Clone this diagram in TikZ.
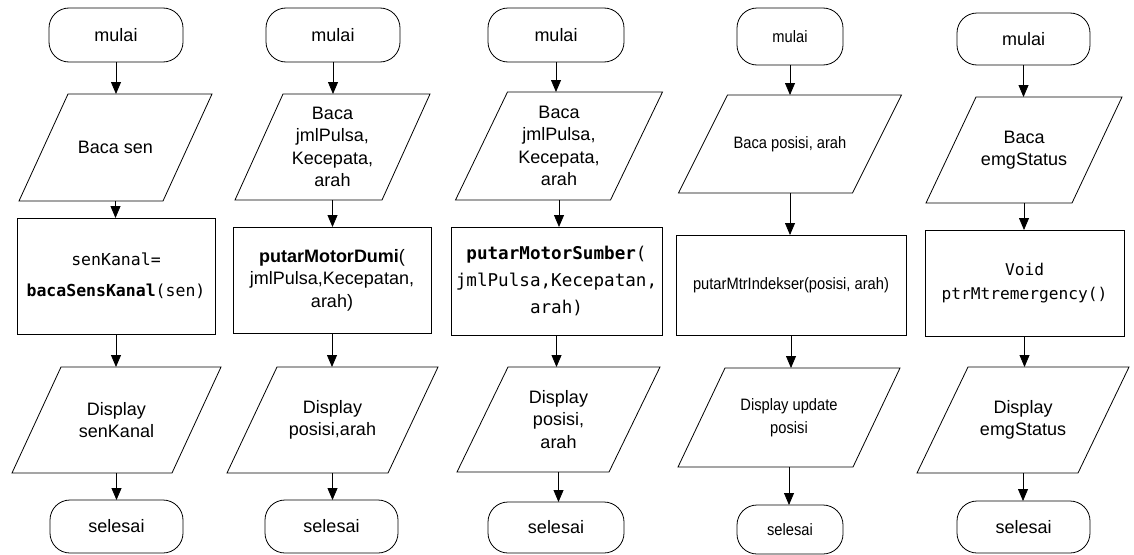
\documentclass[tikz,border=0pt]{standalone}
\usepackage{fontspec}
\setmainfont{Liberation Sans}
\newfontfamily\monofont{DejaVu Sans Mono}
\newfontfamily\narrowsans[FakeStretch=0.89]{Liberation Sans}
\usetikzlibrary{arrows.meta}
\tikzset{
  shapeline/.style={draw=black, line width=0.8pt},
  term/.style={shapeline, rounded corners=20pt, inner sep=0pt, outer sep=0pt},
  procbox/.style={shapeline, inner sep=0pt, outer sep=0pt, align=center},
  iotext/.style={inner sep=0pt, outer sep=0pt, align=center},
  arr/.style={line width=0.8pt, -{Triangle[length=12pt,width=10pt]}},
  big/.style={font=\fontsize{18}{22.5}\selectfont},
  small/.style={font=\narrowsans\fontsize{16.5}{23}\selectfont}
}
% name, cx, cy, top-edge length, height, slant, style, text
\newcommand\iobox[8]{%
  \node[iotext, #7, minimum width=#4pt, minimum height=#5pt] (#1) at (#2,#3) {#8};
  \draw[shapeline] ([xshift=0.5*#6pt]#1.north west) -- ([xshift=0.5*#6pt]#1.north east)
    -- ([xshift=-0.5*#6pt]#1.south east) -- ([xshift=-0.5*#6pt]#1.south west) -- cycle;
}
\begin{document}
\begin{tikzpicture}[x=1pt,y=-1pt]
\useasboundingbox (0,0) rectangle (1134,554);

% ---------- column 1
\node[term, big, minimum width=134pt, minimum height=54pt] (s1) at (116,35) {mulai};
\iobox{p1}{115.5}{147.5}{144}{107}{49}{big}{Baca sen}
\node[procbox, minimum width=198pt, minimum height=116pt,
      font=\monofont\fontsize{16.5}{31}\selectfont] (r1) at (116,276)
      {senKanal=\\\textbf{bacaSensKanal}(sen)};
\iobox{d1}{116.5}{420}{160}{106}{49}{big}{Display\\senKanal}
\node[term, big, minimum width=133pt, minimum height=53pt] (e1) at (116.5,526.5) {selesai};

% ---------- column 2
\node[term, big, minimum width=134pt, minimum height=54pt] (s2) at (333,35) {mulai};
\iobox{p2}{332.5}{147}{147}{106}{48}{big}{Baca\\jmlPulsa,\\Kecepata,\\arah}
\node[procbox, big, minimum width=198pt, minimum height=106pt] (r2) at (332,280)
      {\textbf{putarMotorDumi}(\\jmlPulsa,Kecepatan,\\arah)};
\iobox{d2}{332.5}{420}{161}{106}{50}{big}{Display\\posisi,arah}
\node[term, big, minimum width=133pt, minimum height=53pt] (e2) at (331.5,526.5) {selesai};

% ---------- column 3
\node[term, big, minimum width=136pt, minimum height=54pt] (s3) at (556,35) {mulai};
\iobox{p3}{559}{146}{155}{108}{52}{big}{Baca\\jmlPulsa,\\Kecepata,\\arah}
\node[procbox, minimum width=211pt, minimum height=108pt,
      font=\monofont\fontsize{17.6}{27}\selectfont] (r3) at (556.5,281)
      {\textbf{putarMotorSumber}(\\jmlPulsa,Kecepatan,\\arah)};
\iobox{d3}{558.5}{419.5}{152}{105}{51}{big}{Display\\posisi,\\arah}
\node[term, big, minimum width=136pt, minimum height=51pt] (e3) at (556,527.5) {selesai};

% ---------- column 4
\node[term, small, minimum width=106pt, minimum height=57pt] (s4) at (790,36.5) {mulai};
\iobox{p4}{790}{144}{174}{98}{49}{small}{Baca posisi, arah}
\node[procbox, small, minimum width=230pt, minimum height=100pt] (r4) at (791,285)
      {putarMtrIndekser(posisi, arah)};
\iobox{d4}{789}{417.5}{175}{99}{47}{small}{Display update\\posisi}
\node[term, small, minimum width=106pt, minimum height=49pt] (e4) at (790,529.5) {selesai};

% ---------- column 5
\node[term, big, minimum width=133pt, minimum height=52pt] (s5) at (1023.5,39) {mulai};
\iobox{p5}{1024}{150}{146}{106}{50}{big}{Baca\\emgStatus}
\node[procbox, minimum width=199pt, minimum height=106pt,
      font=\monofont\fontsize{16.2}{24}\selectfont] (r5) at (1024.5,283)
      {Void\\ptrMtremergency()};
\iobox{d5}{1023}{420}{161}{106}{51}{big}{Display\\emgStatus}
\node[term, big, minimum width=133pt, minimum height=52pt] (e5) at (1023.5,527) {selesai};

% ---------- connectors
\foreach \c in {1,...,5}{
  \draw[arr] (s\c.south) -- (s\c.south |- p\c.north);
  \draw[arr] (p\c.south) -- (p\c.south |- r\c.north);
  \draw[arr] (r\c.south) -- (r\c.south |- d\c.north);
  \draw[arr] (d\c.south) -- (d\c.south |- e\c.north);
}
\end{tikzpicture}
\end{document}
